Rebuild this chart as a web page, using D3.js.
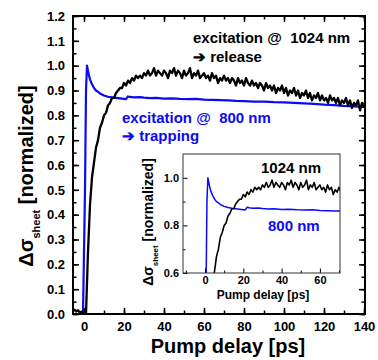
<!DOCTYPE html>
<html>
<head>
<meta charset="utf-8">
<script src="https://cdn.jsdelivr.net/npm/d3@7"></script>
<style>
body { margin: 0; background: #fff; }
text { font-family: "Liberation Sans", Arial, Helvetica, sans-serif; font-weight: bold; white-space: pre; }
</style>
</head>
<body>
<script>
// pump delay (ps) for the 1024 nm trace, 1 ps steps
var tBlack = d3.range(-5, 141);
var vBlack = [
  0.02, 0.01, 0.015, 0.005, 0.01, 0.0, 0.0,
  0.25, 0.44, 0.55, 0.61, 0.67, 0.70, 0.75, 0.77, 0.80, 0.81, 0.84, 0.85, 0.87, 0.87,
  0.89, 0.90, 0.91, 0.91, 0.93, 0.92, 0.94, 0.93, 0.95, 0.94, 0.96, 0.95, 0.96, 0.95,
  0.97, 0.96, 0.98, 0.96, 0.97, 0.99, 0.96, 0.98, 0.97, 0.96, 0.98, 0.97, 0.95, 0.98,
  0.97, 0.99, 0.96, 0.98, 0.97, 0.95, 0.98, 0.96, 0.97, 0.99, 0.95, 0.97, 0.96, 0.98,
  0.95, 0.96, 0.97, 0.95, 0.96, 0.94, 0.97, 0.95, 0.96, 0.93, 0.95, 0.94, 0.96, 0.94,
  0.95, 0.93, 0.95, 0.94, 0.92, 0.95, 0.93, 0.94, 0.92, 0.95, 0.93, 0.92, 0.94, 0.92,
  0.93, 0.91, 0.93, 0.92, 0.90, 0.93, 0.91, 0.92, 0.90, 0.92, 0.89, 0.91, 0.90, 0.92,
  0.89, 0.91, 0.88, 0.90, 0.89, 0.91, 0.88, 0.90, 0.87, 0.89, 0.88, 0.90, 0.87, 0.89,
  0.86, 0.88, 0.87, 0.89, 0.86, 0.88, 0.86, 0.87, 0.85, 0.88, 0.86, 0.87, 0.85, 0.87,
  0.84, 0.86, 0.85, 0.87, 0.84, 0.86, 0.83, 0.85, 0.84, 0.86, 0.82, 0.85, 0.83
];

// pump delay (ps) and signal for the 800 nm trace
var tBlue = [-5, -1, -0.5, 0.5, 1, 1.5, 2, 2.5, 3, 4, 5, 6, 7, 8, 10, 12, 14, 16, 18, 20, 21,
  22, 23, 25, 28, 30, 33, 36, 40, 44, 48, 52, 56, 60, 64, 68, 72, 76, 80, 85, 90, 95, 100,
  105, 110, 115, 120, 125, 130, 135, 140];
var vBlue = [0, 0, 0, 0.5, 0.9, 1.0, 0.98, 0.96, 0.945, 0.925, 0.91, 0.9, 0.895, 0.888, 0.88,
  0.875, 0.872, 0.87, 0.868, 0.866, 0.865, 0.876, 0.874, 0.872, 0.873, 0.871, 0.869, 0.87,
  0.867, 0.868, 0.866, 0.865, 0.866, 0.863, 0.862, 0.861, 0.86, 0.858, 0.857, 0.855, 0.855,
  0.853, 0.852, 0.85, 0.848, 0.846, 0.843, 0.841, 0.838, 0.836, 0.834];

var xTicks = [0, 20, 40, 60, 80, 100, 120, 140];
var yTicks = [0.0, 0.1, 0.2, 0.3, 0.4, 0.5, 0.6, 0.7, 0.8, 0.9, 1.0, 1.1, 1.2];
var insetXTicks = [0, 20, 40, 60];
var insetYTicks = [0.6, 0.8, 1.0];

var blue = "#0a0af5";

var W = 378, H = 360;
var svg = d3.select("body").append("svg").attr("width", W).attr("height", H);

// main plot area
var m = {left: 73, right: 365, top: 16, bottom: 314};
var x = d3.scaleLinear().domain([-5.5, 140.5]).range([m.left, m.right]);
var y = d3.scaleLinear().domain([0, 1.2]).range([m.bottom, m.top]);

svg.append("clipPath").attr("id", "clipMain").append("rect")
    .attr("x", m.left).attr("y", m.top)
    .attr("width", m.right - m.left).attr("height", m.bottom - m.top);

var blackPts = tBlack.map(function (t, i) { return [t, vBlack[i]]; });
var bluePts = tBlue.map(function (t, i) { return [t, vBlue[i]]; });

var line = d3.line().x(function (d) { return x(d[0]); }).y(function (d) { return y(d[1]); });

var plot = svg.append("g").attr("clip-path", "url(#clipMain)");
plot.append("path").datum(bluePts).attr("d", line)
    .attr("fill", "none").attr("stroke", blue).attr("stroke-width", 2.2).attr("stroke-linejoin", "round");
plot.append("path").datum(blackPts).attr("d", line)
    .attr("fill", "none").attr("stroke", "#000").attr("stroke-width", 2.3).attr("stroke-linejoin", "round");

// axes, ticks inward on all four sides
var tickMinorX = d3.range(0, 141, 10), tickMinorY = d3.range(0, 1.201, 0.05);
function ticksAxis(axisFn, scale, major, minor, pos) {
    svg.append("g").attr("transform", pos)
        .call(axisFn(scale).tickValues(minor).tickSize(-3.5).tickFormat(""))
        .call(function (g) { g.select(".domain").remove(); g.selectAll("line").attr("stroke-width", 1.5); });
    return svg.append("g").attr("transform", pos)
        .call(axisFn(scale).tickValues(major).tickSize(-6).tickPadding(8))
        .call(function (g) { g.select(".domain").remove(); g.selectAll("line").attr("stroke-width", 1.5); });
}
var gx = ticksAxis(d3.axisBottom, x, xTicks, tickMinorX, "translate(0," + m.bottom + ")");
gx.selectAll("text").attr("font-size", 13).attr("fill", "#000").attr("dy", "0.71em");
var gt = ticksAxis(d3.axisTop, x, xTicks, tickMinorX, "translate(0," + m.top + ")");
gt.selectAll("text").remove();
var gy = ticksAxis(d3.axisLeft, y, yTicks, tickMinorY, "translate(" + m.left + ",0)");
gy.selectAll("text").attr("font-size", 13).attr("fill", "#000").text(function (d) { return d3.format(".1f")(d); });
var gr = ticksAxis(d3.axisRight, y, yTicks, tickMinorY, "translate(" + m.right + ",0)");
gr.selectAll("text").remove();

svg.append("rect").attr("x", m.left).attr("y", m.top)
    .attr("width", m.right - m.left).attr("height", m.bottom - m.top)
    .attr("fill", "none").attr("stroke", "#000").attr("stroke-width", 2);

// axis titles
svg.append("text").attr("x", 228).attr("y", 353).attr("text-anchor", "middle")
    .attr("font-size", 20).text("Pump delay [ps]");
var yt = svg.append("text").attr("transform", "translate(33,176) rotate(-90)")
    .attr("text-anchor", "middle").attr("font-size", 20);
yt.append("tspan").text("Δσ");
yt.append("tspan").attr("font-size", 11).attr("dy", 7).text("sheet");
yt.append("tspan").attr("dy", -7).text(" [normalized]");

// annotations
svg.append("text").attr("x", 193).attr("y", 43).attr("font-size", 15).text("excitation @  1024 nm");
svg.append("text").attr("x", 193).attr("y", 62).attr("font-size", 15).text("➔ release");
svg.append("text").attr("x", 122).attr("y", 123).attr("font-size", 15).attr("fill", blue).text("excitation @  800 nm");
svg.append("text").attr("x", 122).attr("y", 141).attr("font-size", 15).attr("fill", blue).text("➔ trapping");

// inset
var n = {left: 183, right: 340, top: 154, bottom: 273};
var xi = d3.scaleLinear().domain([-11.5, 70.5]).range([n.left, n.right]);
var yi = d3.scaleLinear().domain([0.6, 1.1]).range([n.bottom, n.top]);

svg.append("rect").attr("x", n.left).attr("y", n.top)
    .attr("width", n.right - n.left).attr("height", n.bottom - n.top).attr("fill", "#fff");
svg.append("clipPath").attr("id", "clipInset").append("rect")
    .attr("x", n.left).attr("y", n.top)
    .attr("width", n.right - n.left).attr("height", n.bottom - n.top);

var lineI = d3.line().x(function (d) { return xi(d[0]); }).y(function (d) { return yi(d[1]); });
var inset = svg.append("g").attr("clip-path", "url(#clipInset)");
inset.append("path").datum(bluePts).attr("d", lineI)
    .attr("fill", "none").attr("stroke", blue).attr("stroke-width", 1.5).attr("stroke-linejoin", "round");
inset.append("path").datum(blackPts).attr("d", lineI)
    .attr("fill", "none").attr("stroke", "#000").attr("stroke-width", 1.6).attr("stroke-linejoin", "round");

var gxi = svg.append("g").attr("transform", "translate(0," + n.bottom + ")");
gxi.append("g").call(d3.axisBottom(xi).tickValues([-10, 10, 30, 50, 70]).tickSize(-2.5).tickFormat(""));
gxi.append("g").call(d3.axisBottom(xi).tickValues(insetXTicks).tickSize(-4.5).tickPadding(3));
gxi.selectAll(".domain").remove();
gxi.selectAll("text").attr("font-size", 11).attr("fill", "#000").attr("dy", "0.71em");
var gyi = svg.append("g").attr("transform", "translate(" + n.left + ",0)");
gyi.append("g").call(d3.axisLeft(yi).tickValues([0.7, 0.9]).tickSize(-2.5).tickFormat(""));
gyi.append("g").call(d3.axisLeft(yi).tickValues(insetYTicks).tickSize(-4.5).tickPadding(4).tickFormat(d3.format(".1f")));
gyi.selectAll(".domain").remove();
gyi.selectAll("text").attr("font-size", 11).attr("fill", "#000");

svg.append("rect").attr("x", n.left).attr("y", n.top)
    .attr("width", n.right - n.left).attr("height", n.bottom - n.top)
    .attr("fill", "none").attr("stroke", "#333").attr("stroke-width", 1);

svg.append("text").attr("x", 261).attr("y", 173).attr("font-size", 15).text("1024 nm");
svg.append("text").attr("x", 268).attr("y", 231).attr("font-size", 15).attr("fill", blue).text("800 nm");
svg.append("text").attr("x", 263).attr("y", 299).attr("text-anchor", "middle")
    .attr("font-size", 12).text("Pump delay [ps]");
var yti = svg.append("text").attr("transform", "translate(153,222) rotate(-90)")
    .attr("text-anchor", "middle").attr("font-size", 14);
yti.append("tspan").text("Δσ");
yti.append("tspan").attr("font-size", 8).attr("dy", 5).text("sheet");
yti.append("tspan").attr("dy", -5).text(" [normalized]");
</script>
</body>
</html>
